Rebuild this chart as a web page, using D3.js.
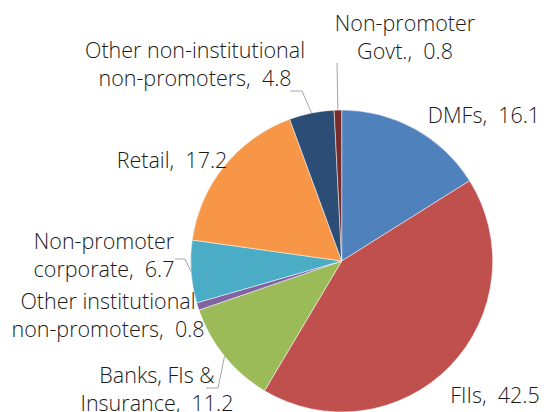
<!DOCTYPE html>
<html>
<head>
<meta charset="utf-8">
<script src="https://cdn.jsdelivr.net/npm/d3@7"></script>
<style>
  body { margin: 0; background: #fff; }
  text { font-family: "Open Sans", Lato, sans-serif; font-weight: 300; fill: #1a1a1a; }
</style>
</head>
<body>
<svg id="chart" width="550" height="412"></svg>
<script>
// shareholding categories and values (%)
const categories = ['DMFs', 'FIIs', 'Banks, FIs & Insurance', 'Other institutional non-promoters',
  'Non-promoter corporate', 'Retail', 'Other non-institutional non-promoters', 'Non-promoter Govt.']
const values = [16.1, 42.5, 11.2, 0.8, 6.7, 17.2, 4.8, 0.8]
const colors = ['#4F81BD', '#C0504D', '#9BBB59', '#8064A2', '#4BACC6', '#F79646', '#2C4D75', '#772C2A']
const labelLines = [
  ['DMFs,  16.1'],
  ['FIIs,  42.5'],
  ['Banks, FIs &', 'Insurance,  11.2'],
  ['Other institutional', 'non-promoters,  0.8'],
  ['Non-promoter', 'corporate,  6.7'],
  ['Retail,  17.2'],
  ['Other non-institutional', 'non-promoters,  4.8'],
  ['Non-promoter', 'Govt.,  0.8']
]

// label placement (centre x, first line y) and leader start, manual like the original
const labelLayout = [
  {x: 484, y: 115},
  {x: 495, y: 395},
  {x: 157, y: 375, lead: [206, 388, 218]},
  {x: 108, y: 301},
  {x: 104, y: 241, lead: [175, 259, 185]},
  {x: 172, y: 160},
  {x: 195, y: 50, lead: [290, 91, 302]},
  {x: 405, y: 23, lead: [337, 63, 337]}
]

const svg = d3.select('#chart')
const cx = 341.7, cy = 261, r = 151
const lineH = 28

const g = svg.append('g').attr('transform', `translate(${cx},${cy})`)

const pie = d3.pie().sort(null).value(d => d.value)
const data = pie(values.map((v, i) => ({name: categories[i], value: v, i})))
const arc = d3.arc().innerRadius(0).outerRadius(r)

g.selectAll('path.slice')
  .data(data)
  .enter()
  .append('path')
  .attr('class', 'slice')
  .attr('d', arc)
  .attr('fill', d => colors[d.data.i])
  .attr('stroke', '#fff')
  .attr('stroke-width', 0.5)

// leader lines go to the outer edge at the slice mid angle
const edgePoint = d => {
  let a = (d.startAngle + d.endAngle) / 2
  return [cx + r * Math.sin(a), cy - r * Math.cos(a)]
}

data.forEach(d => {
  let lay = labelLayout[d.data.i]
  if (!lay.lead) return
  let p = edgePoint(d)
  svg.append('polyline')
    .attr('points', [[lay.lead[0], lay.lead[1]], [lay.lead[2], lay.lead[1]], p].map(q => q.join(',')).join(' '))
    .attr('fill', 'none')
    .attr('stroke', '#a6a6a6')
    .attr('stroke-width', 1)
})

data.forEach(d => {
  let lay = labelLayout[d.data.i]
  let t = svg.append('text')
    .attr('text-anchor', 'middle')
    .attr('font-size', 21.5)
    .style('white-space', 'pre')
  labelLines[d.data.i].forEach((line, k) => {
    t.append('tspan')
      .attr('x', lay.x)
      .attr('y', lay.y + k * lineH)
      .attr('dy', '0.35em')
      .text(line)
  })
})
</script>
</body>
</html>
